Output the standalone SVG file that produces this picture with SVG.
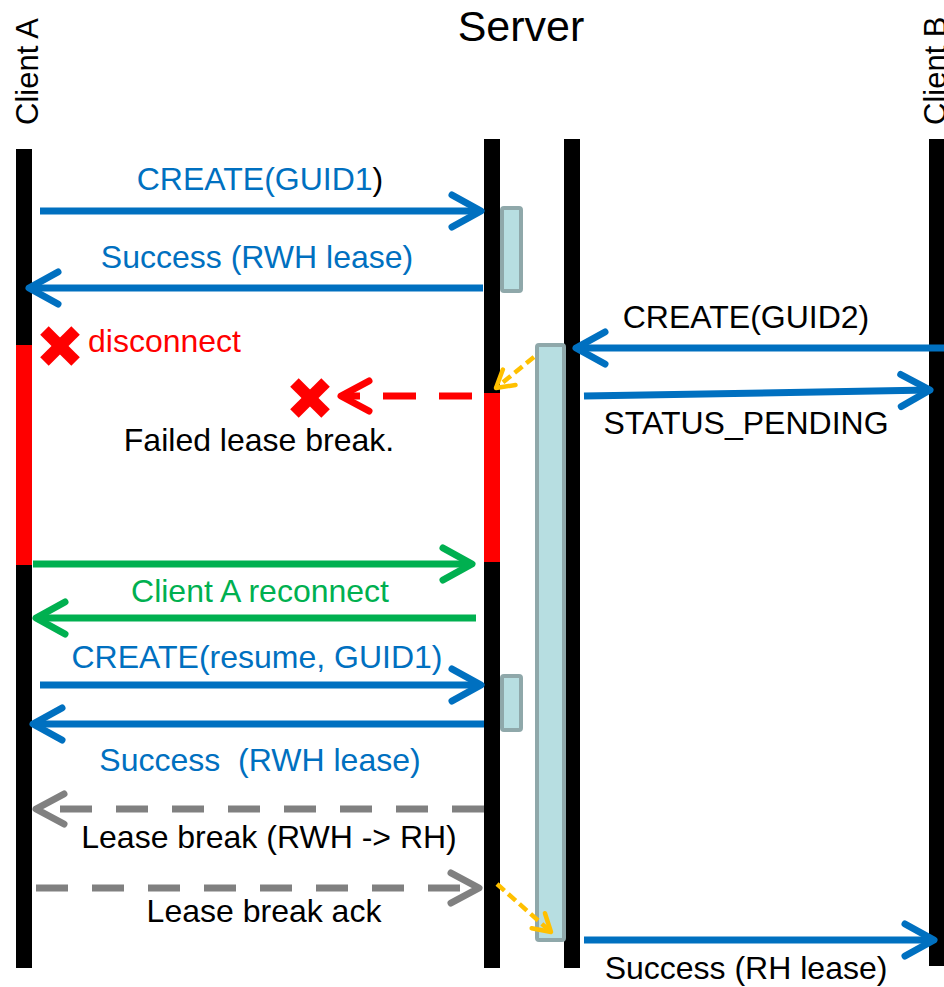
<svg xmlns="http://www.w3.org/2000/svg" width="944" height="987" viewBox="0 0 944 987">
  <style>
    text { font-family: "Liberation Sans", Arial, sans-serif; white-space: pre; }
    .title { font-size: 43px; fill: #000; text-anchor: middle; }
    .actor { font-size: 31px; fill: #000; }
    .lbl { font-size: 32px; text-anchor: middle; }
    .blue { fill: #0070C0; }
    .green { fill: #00B050; }
    .red { fill: #FF0000; }
    .black { fill: #000; }
    .life { fill: #000; }
    .down { fill: #FF0000; }
    .act { fill: #B7DEE1; stroke: #8FA8AA; stroke-width: 4; }
    .msg { fill: none; stroke-width: 7; }
    .m-blue { stroke: #0070C0; marker-end: url(#ah-blue); }
    .m-green { stroke: #00B050; marker-end: url(#ah-green); }
    .m-red { stroke: #FF0000; stroke-dasharray: 33 23; marker-end: url(#ah-red); }
    .m-gray { stroke: #808080; stroke-dasharray: 32 24; marker-end: url(#ah-gray); }
    .m-orange { fill: none; stroke: #FFC000; stroke-width: 4.5; stroke-dasharray: 10 5; marker-end: url(#ah-orange); }
    .head { fill: none; stroke-width: 7; stroke-linecap: round; stroke-linejoin: round; }
  </style>
  <defs>
    <marker id="ah-blue" markerUnits="userSpaceOnUse" markerWidth="40" markerHeight="40" refX="0" refY="0" orient="auto" overflow="visible">
      <path class="head" d="M-29,-16 L0,0 L-29,16" stroke="#0070C0"/>
    </marker>
    <marker id="ah-green" markerUnits="userSpaceOnUse" markerWidth="40" markerHeight="40" refX="0" refY="0" orient="auto" overflow="visible">
      <path class="head" d="M-29,-16 L0,0 L-29,16" stroke="#00B050"/>
    </marker>
    <marker id="ah-red" markerUnits="userSpaceOnUse" markerWidth="40" markerHeight="40" refX="0" refY="0" orient="auto" overflow="visible">
      <path class="head" d="M-28,-15 L0,0 L-28,15" stroke="#FF0000"/>
    </marker>
    <marker id="ah-gray" markerUnits="userSpaceOnUse" markerWidth="40" markerHeight="40" refX="0" refY="0" orient="auto" overflow="visible">
      <path class="head" d="M-28,-15 L0,0 L-28,15" stroke="#808080"/>
    </marker>
    <marker id="ah-orange" markerUnits="userSpaceOnUse" markerWidth="30" markerHeight="30" refX="0" refY="0" orient="auto" overflow="visible">
      <path d="M-17,-10 L0,0 L-17,10" fill="none" stroke="#FFC000" stroke-width="4.5" stroke-linecap="round" stroke-linejoin="round"/>
    </marker>
    <!-- heavy cross mark -->
    <g id="cross">
      <g transform="rotate(45)" fill="#FF0000">
        <rect x="-22" y="-6" width="44" height="12"/>
        <rect x="-6" y="-22" width="12" height="44"/>
      </g>
    </g>
  </defs>

  <rect width="944" height="987" fill="#fff"/>

  <!-- participants -->
  <g id="client-a">
    <text class="actor" transform="translate(38,125) rotate(-90)">Client A</text>
    <rect class="life" x="16" y="149" width="16" height="819"/>
    <rect class="down" x="16" y="345" width="16" height="220"/>
  </g>

  <g id="server">
    <text class="title" x="521" y="41">Server</text>
    <g id="server-front">
      <rect class="life" x="484" y="139" width="16" height="829"/>
      <rect class="down" x="484" y="393" width="16" height="169"/>
      <rect class="act" x="502" y="208" width="19" height="83" rx="2"/>
      <rect class="act" x="502" y="676" width="19" height="54" rx="2"/>
    </g>
    <g id="server-back">
      <rect class="life" x="564" y="139" width="16" height="829"/>
      <rect class="act" x="537" y="345" width="27" height="595" rx="2"/>
    </g>
  </g>

  <g id="client-b">
    <text class="actor" transform="translate(946,125) rotate(-90)">Client B</text>
    <rect class="life" x="929" y="139" width="16" height="827"/>
  </g>

  <!-- messages -->
  <g id="connectors">
    <path class="msg m-blue" d="M40,211 L481,211"/>
    <path class="msg m-blue" d="M483,288 L29,288"/>
    <path class="msg m-blue" d="M944,348 L576,348"/>
    <path class="msg m-blue" d="M584,396 L930,390"/>
    <path class="msg m-red" d="M472,396 L341,396"/>
    <path class="msg m-green" d="M33,564 L472,564"/>
    <path class="msg m-green" d="M476,618 L36,618"/>
    <path class="msg m-blue" d="M40,685 L481,685"/>
    <path class="msg m-blue" d="M484,724 L33,724"/>
    <path class="msg m-gray" d="M484,809 L36,809"/>
    <path class="msg m-gray" d="M36,888 L479,888"/>
    <path class="msg m-blue" d="M584,940 L934,940"/>
    <path class="m-orange" d="M534,357 L496,388"/>
    <path class="m-orange" d="M497,884 L551,932"/>
  </g>

  <!-- disconnect marks -->
  <use href="#cross" x="60" y="346"/>
  <use href="#cross" x="310" y="398"/>

  <!-- labels -->
  <g id="labels">
    <text class="lbl blue" x="260" y="190">CREATE(GUID1<tspan class="black">)</tspan></text>
    <text class="lbl blue" x="257" y="268">Success (RWH lease)</text>
    <text class="lbl black" x="746" y="328">CREATE(GUID2)</text>
    <text class="lbl black" x="746" y="434">STATUS_PENDING</text>
    <text class="red" x="88" y="352" style="font-size:32px">disconnect</text>
    <text class="lbl black" x="259" y="451">Failed lease break.</text>
    <text class="lbl green" x="260" y="602">Client A reconnect</text>
    <text class="lbl blue" x="257" y="668">CREATE(resume, GUID1)</text>
    <text class="lbl blue" x="260" y="771">Success  (RWH lease)</text>
    <text class="lbl black" x="269" y="848">Lease break (RWH -&gt; RH)</text>
    <text class="lbl black" x="264" y="922">Lease break ack</text>
    <text class="lbl black" x="746" y="979">Success (RH lease)</text>
  </g>
</svg>
